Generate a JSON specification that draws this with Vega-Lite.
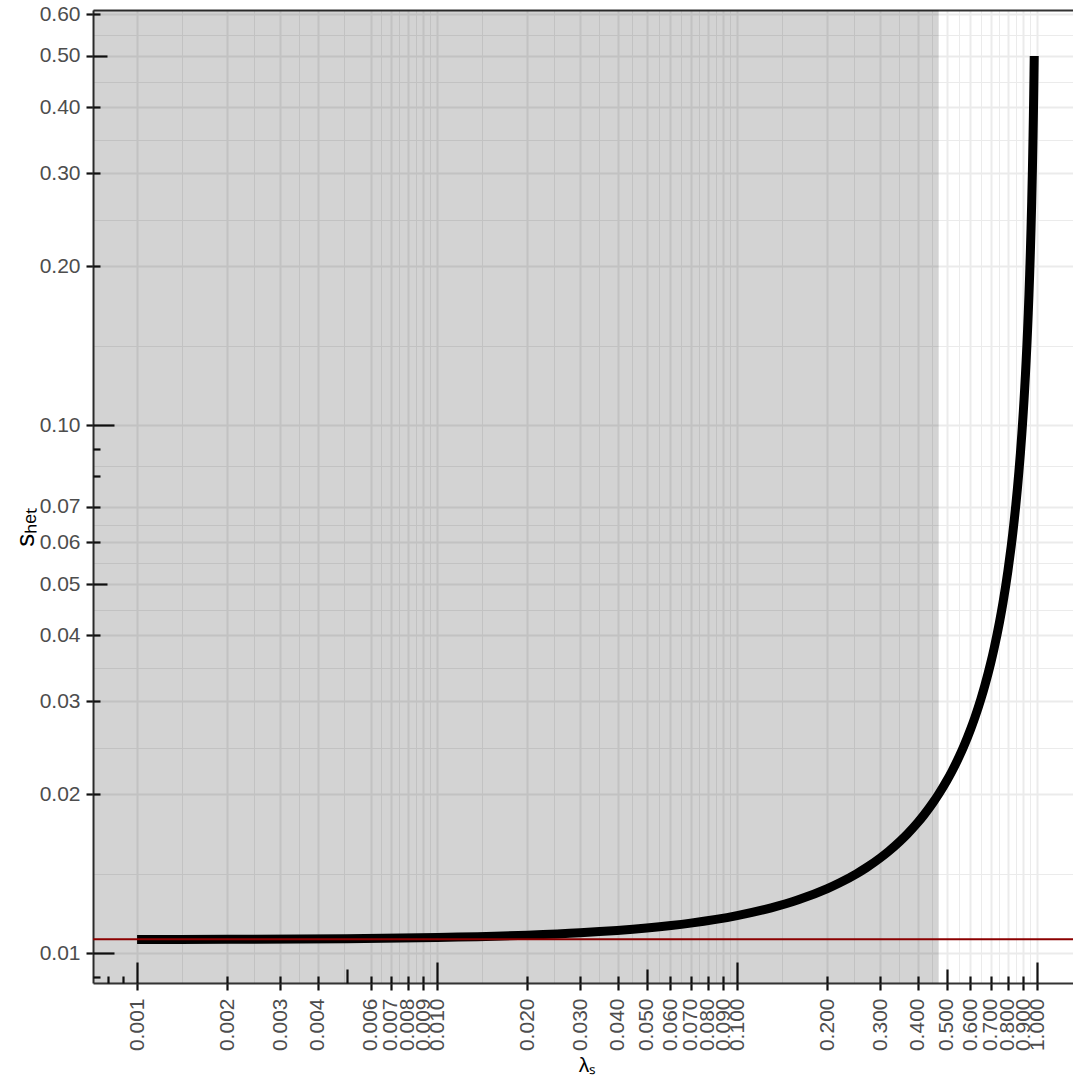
{
  "$schema": "https://vega.github.io/schema/vega-lite/v6.json",
  "width": 980,
  "height": 973,
  "autosize": {"type": "none"},
  "padding": {"left": 93, "top": 10, "right": 0, "bottom": 106},
  "background": "white",
  "view": {"stroke": null},
  "config": {"font": "Liberation Sans"},
  "datasets": {
    "shade": [{"lambda_from": 0.0005, "lambda_to": 0.47}],
    "ref": [{"lambda_from": 0.0005, "lambda_to": 2, "s_het": 0.01063}],
    "curve": [
      {"lambda": 0.001, "s_het": 0.010611},
      {"lambda": 0.002, "s_het": 0.010621},
      {"lambda": 0.005, "s_het": 0.010653},
      {"lambda": 0.01, "s_het": 0.010707},
      {"lambda": 0.02, "s_het": 0.010816},
      {"lambda": 0.03, "s_het": 0.010928},
      {"lambda": 0.05, "s_het": 0.011158},
      {"lambda": 0.07, "s_het": 0.011398},
      {"lambda": 0.1, "s_het": 0.011778},
      {"lambda": 0.13, "s_het": 0.012184},
      {"lambda": 0.16, "s_het": 0.012619},
      {"lambda": 0.2, "s_het": 0.01325},
      {"lambda": 0.22, "s_het": 0.01359},
      {"lambda": 0.25, "s_het": 0.014133},
      {"lambda": 0.27, "s_het": 0.01452},
      {"lambda": 0.3, "s_het": 0.015143},
      {"lambda": 0.32, "s_het": 0.015588},
      {"lambda": 0.35, "s_het": 0.016308},
      {"lambda": 0.37, "s_het": 0.016825},
      {"lambda": 0.4, "s_het": 0.017667},
      {"lambda": 0.42, "s_het": 0.018276},
      {"lambda": 0.45, "s_het": 0.019273},
      {"lambda": 0.47, "s_het": 0.02},
      {"lambda": 0.5, "s_het": 0.0212},
      {"lambda": 0.52, "s_het": 0.022083},
      {"lambda": 0.55, "s_het": 0.023556},
      {"lambda": 0.57, "s_het": 0.024651},
      {"lambda": 0.6, "s_het": 0.0265},
      {"lambda": 0.62, "s_het": 0.027895},
      {"lambda": 0.65, "s_het": 0.030286},
      {"lambda": 0.67, "s_het": 0.032121},
      {"lambda": 0.7, "s_het": 0.035333},
      {"lambda": 0.72, "s_het": 0.037857},
      {"lambda": 0.75, "s_het": 0.0424},
      {"lambda": 0.77, "s_het": 0.046087},
      {"lambda": 0.8, "s_het": 0.053},
      {"lambda": 0.82, "s_het": 0.058889},
      {"lambda": 0.83, "s_het": 0.062353},
      {"lambda": 0.84, "s_het": 0.06625},
      {"lambda": 0.85, "s_het": 0.070667},
      {"lambda": 0.86, "s_het": 0.075714},
      {"lambda": 0.87, "s_het": 0.081538},
      {"lambda": 0.88, "s_het": 0.088333},
      {"lambda": 0.89, "s_het": 0.096364},
      {"lambda": 0.895, "s_het": 0.100952},
      {"lambda": 0.9, "s_het": 0.106},
      {"lambda": 0.905, "s_het": 0.111579},
      {"lambda": 0.91, "s_het": 0.117778},
      {"lambda": 0.915, "s_het": 0.124706},
      {"lambda": 0.92, "s_het": 0.1325},
      {"lambda": 0.925, "s_het": 0.141333},
      {"lambda": 0.93, "s_het": 0.151429},
      {"lambda": 0.935, "s_het": 0.163077},
      {"lambda": 0.94, "s_het": 0.176667},
      {"lambda": 0.945, "s_het": 0.192727},
      {"lambda": 0.95, "s_het": 0.212},
      {"lambda": 0.955, "s_het": 0.235556},
      {"lambda": 0.96, "s_het": 0.265},
      {"lambda": 0.965, "s_het": 0.302857},
      {"lambda": 0.97, "s_het": 0.353333},
      {"lambda": 0.9725, "s_het": 0.385455},
      {"lambda": 0.975, "s_het": 0.424},
      {"lambda": 0.977, "s_het": 0.46087},
      {"lambda": 0.9788, "s_het": 0.5}
    ]
  },
  "resolve": {"axis": {"x": "independent", "y": "independent"}},
  "layer": [
    {
      "data": {"name": "shade"},
      "mark": {"type": "rect", "color": "black", "opacity": 0.172, "clip": true},
      "encoding": {
        "x": {
          "field": "lambda_from", "type": "quantitative",
          "scale": {"type": "log", "domain": [0.000713, 1.318], "nice": false, "zero": false},
          "axis": {
            "orient": "bottom",
            "title": "λₛ",
            "values": [0.001,0.002,0.003,0.004,0.006,0.007,0.008,0.009,0.01,0.02,0.03,0.04,0.05,0.06,0.07,0.08,0.09,0.1,0.2,0.3,0.4,0.5,0.6,0.7,0.8,0.9,1,
                       0.0014142,0.0024495,0.0034641,0.004899,0.0064807,0.0074833,0.0084853,0.0094868,0.014142,0.024495,0.034641,0.044721,0.054772,0.064807,0.074833,0.084853,0.094868,0.14142,0.24495,0.34641,0.44721,0.54772,0.64807,0.74833,0.84853,0.94868],
            "labelExpr": "abs(datum.value*1000 - round(datum.value*1000)) < 1e-6 ? format(datum.value, '.3f') : ''",
            "labelAngle": 270,
            "labelAlign": "right",
            "labelBaseline": "middle",
            "labelFontSize": 21,
            "labelColor": "#4d4d4d",
            "labelPadding": 8,
            "labelOverlap": false,
            "labelBound": false,
            "labelFlush": false,
            "tickSize": 7,
            "tickWidth": 2.2,
            "tickColor": "#111111",
            "tickOpacity": {"condition": {"test": "abs(datum.value*1000 - round(datum.value*1000)) < 1e-6", "value": 1}, "value": 0},
            "grid": true,
            "gridColor": "#ebebeb",
            "gridWidth": {"condition": {"test": "abs(datum.value*1000 - round(datum.value*1000)) < 1e-6", "value": 2}, "value": 1},
            "domain": true,
            "domainColor": "#333333",
            "domainWidth": 2,
            "titleFontSize": 21,
            "titleFontWeight": "normal",
            "titleColor": "black",
            "titleX": 494,
            "titleY": 88,
            "titleAlign": "center",
            "titleBaseline": "alphabetic"
          }
        },
        "x2": {"field": "lambda_to"}
      }
    },
    {
      "data": {"name": "curve"},
      "mark": {"type": "line", "color": "black", "strokeWidth": 9, "strokeCap": "butt", "interpolate": "monotone", "clip": true},
      "encoding": {
        "x": {
          "field": "lambda", "type": "quantitative",
          "scale": {"type": "log", "domain": [0.000713, 1.318], "nice": false, "zero": false},
          "axis": {
            "orient": "bottom",
            "title": null,
            "values": [0.0008,0.0009,0.001,0.002,0.003,0.004,0.005,0.006,0.007,0.008,0.009,0.01,0.02,0.03,0.04,0.05,0.06,0.07,0.08,0.09,0.1,0.2,0.3,0.4,0.5,0.6,0.7,0.8,0.9,1],
            "labels": false,
            "grid": false,
            "domain": false,
            "ticks": true,
            "tickWidth": 2.2,
            "tickColor": "#111111",
            "tickSize": {"condition": [
              {"test": "indexof([0.001,0.01,0.1,1], datum.value) >= 0", "value": -21},
              {"test": "indexof([0.005,0.05,0.5], datum.value) >= 0", "value": -14}
            ], "value": -7}
          }
        },
        "y": {
          "field": "s_het", "type": "quantitative",
          "scale": {"type": "log", "domain": [0.00878, 0.611], "nice": false, "zero": false},
          "axis": {
            "orient": "left",
            "title": "sₕₑₜ",
            "values": [0.01,0.02,0.03,0.04,0.05,0.06,0.07,0.1,0.2,0.3,0.4,0.5,0.6,
                       0.014142,0.024495,0.034641,0.044721,0.054772,0.064807,0.083666,0.14142,0.24495,0.34641,0.44721,0.54772],
            "labelExpr": "abs(datum.value*100 - round(datum.value*100)) < 1e-6 ? format(datum.value, '.2f') : ''",
            "labelFontSize": 21,
            "labelColor": "#4d4d4d",
            "labelPadding": 6,
            "labelOverlap": false,
            "labelBound": false,
            "labelFlush": false,
            "tickSize": 7,
            "tickWidth": 2.2,
            "tickColor": "#111111",
            "tickOpacity": {"condition": {"test": "abs(datum.value*100 - round(datum.value*100)) < 1e-6", "value": 1}, "value": 0},
            "grid": true,
            "gridColor": "#ebebeb",
            "gridWidth": {"condition": {"test": "abs(datum.value*100 - round(datum.value*100)) < 1e-6", "value": 2}, "value": 1},
            "domain": true,
            "domainColor": "#333333",
            "domainWidth": 2,
            "titleFontSize": 26,
            "titleFontWeight": "normal",
            "titleColor": "black",
            "titleAngle": 270,
            "titleX": -60,
            "titleY": 517,
            "titleAlign": "center",
            "titleBaseline": "alphabetic"
          }
        }
      }
    },
    {
      "data": {"name": "ref"},
      "mark": {"type": "rule", "color": "#8b0000", "strokeWidth": 2, "clip": true},
      "encoding": {
        "x": {
          "field": "lambda_from", "type": "quantitative",
          "scale": {"type": "log", "domain": [0.000713, 1.318], "nice": false, "zero": false},
          "axis": {
            "orient": "top",
            "title": null,
            "values": [],
            "labels": false,
            "ticks": false,
            "grid": false,
            "domain": true,
            "domainColor": "#333333",
            "domainWidth": 2
          }
        },
        "x2": {"field": "lambda_to"},
        "y": {
          "field": "s_het", "type": "quantitative",
          "scale": {"type": "log", "domain": [0.00878, 0.611], "nice": false, "zero": false},
          "axis": {
            "orient": "left",
            "title": null,
            "values": [0.009,0.01,0.02,0.03,0.04,0.05,0.06,0.07,0.08,0.09,0.1,0.2,0.3,0.4,0.5,0.6],
            "labels": false,
            "grid": false,
            "domain": false,
            "ticks": true,
            "tickWidth": 2.2,
            "tickColor": "#111111",
            "tickSize": {"condition": [
              {"test": "indexof([0.01,0.1], datum.value) >= 0", "value": -21},
              {"test": "indexof([0.05,0.5], datum.value) >= 0", "value": -14}
            ], "value": -7}
          }
        }
      }
    }
  ]
}
